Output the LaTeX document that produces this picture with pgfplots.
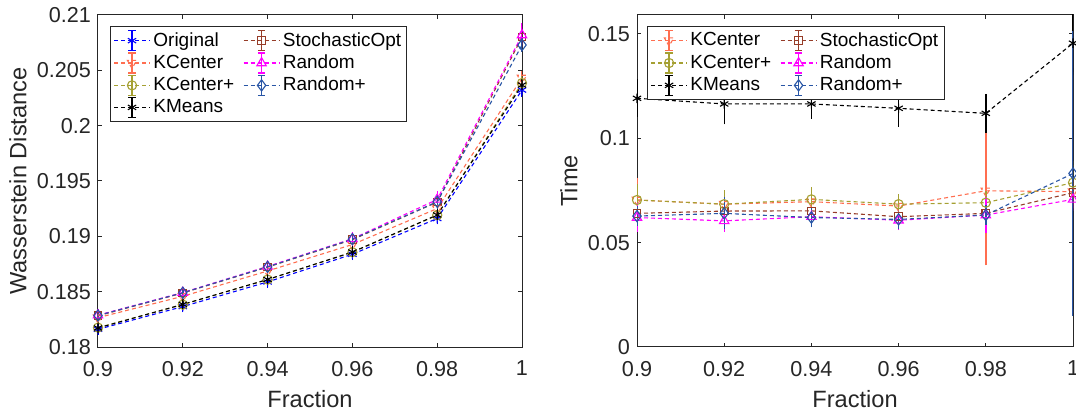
\documentclass[border=0pt]{standalone}
\usepackage{pgfplots}
\pgfplotsset{compat=1.18}
\usepackage{fontspec}
\setmainfont{Liberation Sans}
\definecolor{axcol}{rgb}{0.15,0.15,0.15}
\definecolor{cOrig}{rgb}{0,0,1}
\definecolor{cKC}{RGB}{255,110,80}
\definecolor{cKCp}{RGB}{165,160,50}
\definecolor{cKM}{rgb}{0,0,0}
\definecolor{cSO}{RGB}{150,60,40}
\definecolor{cR}{RGB}{255,0,255}
\definecolor{cRp}{RGB}{40,85,165}
\pgfplotsset{
  errleg/.style={legend image code/.code={
    \draw[mark repeat=2,mark phase=2,##1] plot coordinates {(0pt,0pt)(9pt,0pt)(18pt,0pt)};
    \draw[##1,solid,mark=none,line width=0.7pt] (9pt,-5pt)--(9pt,5pt) (7.2pt,-5pt)--(10.8pt,-5pt) (7.2pt,5pt)--(10.8pt,5pt);
  }},
  ser/.style={#1, line width=0.55pt, dash pattern=on 2pt off 1.5pt, mark options={solid}, errleg,
    error bars/y dir=both, error bars/y explicit,
    error bars/error bar style={solid, line width=0.7pt},
    error bars/error mark options={solid, mark size=1.8pt, line width=0.7pt}},
  base/.style={
    scale only axis, height=166pt,
    xmin=0.9, xmax=1,
    xtick={0.9,0.92,0.94,0.96,0.98,1},
    xticklabels={0.9,0.92,0.94,0.96,0.98,1},
    tick align=inside, xtick pos=both, ytick pos=both,
    major tick length=2.2pt,
    axis line style={draw=axcol, line width=0.5pt},
    every tick/.style={axcol, line width=0.5pt},
    tick label style={font=\fontsize{10.8}{12}\selectfont, text=axcol},
    xticklabel style={yshift=-3.5pt},
    label style={font=\fontsize{11.8}{14}\selectfont, text=axcol},
    xlabel={Fraction},
    xlabel style={at={(axis description cs:0.5,-0.157)}, anchor=center},
    legend cell align=left,
    legend columns=2,
    legend style={anchor=north west, draw=axcol, line width=0.5pt,
      font=\fontsize{9.5}{11}\selectfont, inner sep=1.5pt, row sep=0pt,
      nodes={inner sep=1.4pt, font=\fontsize{9.5}{11}\selectfont},
      /tikz/every even column/.append style={column sep=3pt}},
  }
}
\begin{document}
\begin{tikzpicture}
\useasboundingbox (-49pt,-35pt) rectangle (489pt,173.5pt);
\begin{axis}[base, width=212pt,
  ymin=0.18, ymax=0.21,
  ytick={0.18,0.185,0.19,0.195,0.2,0.205,0.21},
  yticklabels={0.18,0.185,0.19,0.195,0.2,0.205,0.21},
  ylabel={Wasserstein Distance},
  ylabel style={at={(axis description cs:-0.189,0.5)}, anchor=center},
  legend style={at={(axis description cs:0.0283,0.967)}},
]
\addplot[ser=cOrig, mark=asterisk, mark size=2.4pt] coordinates {
 (0.9,0.18160) +- (0,0.0002) (0.92,0.18365) +- (0,0.0002) (0.94,0.18588) +- (0,0.0002)
 (0.96,0.18838) +- (0,0.0002) (0.98,0.19161) +- (0,0.0002) (1,0.20322) +- (0,0.0003)};
\addlegendentry{Original}
\addplot[ser=cSO, mark=square, mark size=1.9pt] coordinates {
 (0.9,0.18282) +- (0,0.0002) (0.92,0.18488) +- (0,0.0002) (0.94,0.18722) +- (0,0.0002)
 (0.96,0.18970) +- (0,0.0002) (0.98,0.19310) +- (0,0.0003) (1,0.20800) +- (0,0.0004)};
\addlegendentry{StochasticOpt}
\addplot[ser=cKC, mark=triangle, mark size=2.7pt, mark options={rotate=180}] coordinates {
 (0.9,0.18265) +- (0,0.0002) (0.92,0.18458) +- (0,0.0002) (0.94,0.18687) +- (0,0.0002)
 (0.96,0.18926) +- (0,0.0002) (0.98,0.19251) +- (0,0.0003) (1,0.20431) +- (0,0.0003)};
\addlegendentry{KCenter}
\addplot[ser=cR, mark=triangle, mark size=2.7pt] coordinates {
 (0.9,0.18288) +- (0,0.0002) (0.92,0.18492) +- (0,0.0002) (0.94,0.18728) +- (0,0.0002)
 (0.96,0.18978) +- (0,0.0003) (0.98,0.19333) +- (0,0.0004) (1,0.20819) +- (0,0.0008)};
\addlegendentry{Random}
\addplot[ser=cKCp, mark=o, mark size=2.3pt] coordinates {
 (0.9,0.18175) +- (0,0.0002) (0.92,0.18383) +- (0,0.0002) (0.94,0.18609) +- (0,0.0002)
 (0.96,0.18856) +- (0,0.0002) (0.98,0.19191) +- (0,0.0002) (1,0.20385) +- (0,0.0003)};
\addlegendentry{KCenter+}
\addplot[ser=cRp, mark=diamond, mark size=2.8pt] coordinates {
 (0.9,0.18285) +- (0,0.0002) (0.92,0.18490) +- (0,0.0002) (0.94,0.18724) +- (0,0.0002)
 (0.96,0.18974) +- (0,0.0002) (0.98,0.19312) +- (0,0.0003) (1,0.20729) +- (0,0.0003)};
\addlegendentry{Random+}
\addplot[ser=cKM, mark=asterisk, mark size=2.4pt] coordinates {
 (0.9,0.18172) +- (0,0.0002) (0.92,0.18385) +- (0,0.0002) (0.94,0.18610) +- (0,0.0002)
 (0.96,0.18858) +- (0,0.0002) (0.98,0.19193) +- (0,0.0002) (1,0.20367) +- (0,0.0003)};
\addlegendentry{KMeans}
\end{axis}
\begin{axis}[base, width=218pt, xshift=269.5pt,
  ymin=0, ymax=0.159,
  ytick={0,0.05,0.1,0.15},
  yticklabels={0,0.05,0.1,0.15},
  ylabel={Time},
  ylabel style={at={(axis description cs:-0.156,0.5)}, anchor=center},
  legend style={at={(axis description cs:0.023,0.967)}},
]
\addplot[ser=cKC, mark=triangle, mark size=2.7pt, mark options={rotate=180}] coordinates {
 (0.9,0.0704) +- (0,0.009) (0.92,0.0684) +- (0,0.004) (0.94,0.0696) +- (0,0.003)
 (0.96,0.0675) +- (0,0.002) (0.98,0.0748) +- (0,0.034) (1,0.0744) +- (0,0.004)};
\addlegendentry{KCenter}
\addplot[ser=cSO, mark=square, mark size=1.9pt] coordinates {
 (0.9,0.0640) +- (0,0.003) (0.92,0.0651) +- (0,0.005) (0.94,0.0652) +- (0,0.006)
 (0.96,0.0624) +- (0,0.003) (0.98,0.0640) +- (0,0.004) (1,0.0739) +- (0,0.006)};
\addlegendentry{StochasticOpt}
\addplot[ser=cKCp, mark=o, mark size=2.3pt] coordinates {
 (0.9,0.0704) +- (0,0.006) (0.92,0.0684) +- (0,0.005) (0.94,0.0707) +- (0,0.004)
 (0.96,0.0684) +- (0,0.003) (0.98,0.0691) +- (0,0.004) (1,0.0787) +- (0,0.0085)};
\addlegendentry{KCenter+}
\addplot[ser=cR, mark=triangle, mark size=2.7pt] coordinates {
 (0.9,0.0620) +- (0,0.005) (0.92,0.0604) +- (0,0.0036) (0.94,0.0624) +- (0,0.003)
 (0.96,0.0607) +- (0,0.003) (0.98,0.0632) +- (0,0.007) (1,0.0707) +- (0,0.004)};
\addlegendentry{Random}
\addplot[ser=cKM, mark=asterisk, mark size=2.4pt] coordinates {
 (0.9,0.1191) +- (0,0.0073) (0.92,0.1164) +- (0,0.008) (0.94,0.1164) +- (0,0.0053)
 (0.96,0.1143) +- (0,0.007) (0.98,0.1119) +- (0,0.0076) (1,0.1455) +- (0,0.0136)};
\addlegendentry{KMeans}
\addplot[ser=cRp, mark=diamond, mark size=2.8pt] coordinates {
 (0.9,0.0627) +- (0,0.003) (0.92,0.0640) +- (0,0.006) (0.94,0.0620) +- (0,0.003)
 (0.96,0.0611) +- (0,0.003) (0.98,0.0632) +- (0,0.003) (1,0.0831) +- (0,0.0666)};
\addlegendentry{Random+}
\end{axis}
\end{tikzpicture}
\end{document}
